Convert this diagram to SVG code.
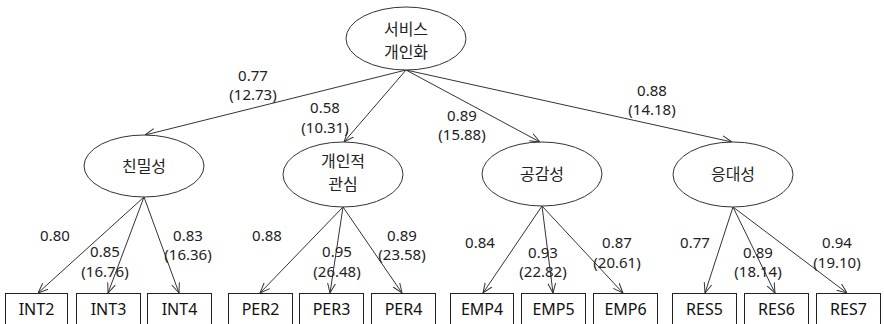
<svg xmlns="http://www.w3.org/2000/svg" width="884" height="324" viewBox="0 0 884 324">
<style>
.bg{fill:#fff}
ellipse{fill:#fff;stroke:#333;stroke-width:1}
rect{fill:#fff;stroke:#222;stroke-width:1}
.k{font-family:"Noto Sans CJK KR","Noto Sans",sans-serif;font-size:16px;fill:#222;text-anchor:middle}
.n{font-family:"Noto Sans","Liberation Sans",sans-serif;font-size:15px;fill:#222;text-anchor:middle}
.b{font-family:"Noto Sans","Liberation Sans",sans-serif;font-size:16px;fill:#111;text-anchor:middle}
#edges line{stroke:#333;stroke-width:1;marker-end:url(#ah)}
</style>
<defs>
<marker id="ah" viewBox="0 0 10 10" refX="10" refY="5" markerWidth="10" markerHeight="10" markerUnits="userSpaceOnUse" orient="auto">
<path d="M0,1 L10,5 L0,9" fill="none" stroke="#333" stroke-width="1"/>
</marker>
</defs>
<rect class="bg" x="0" y="0" width="884" height="324" style="stroke:none"/>
<g id="edges">
<line x1="406" y1="70" x2="145" y2="135"/>
<line x1="406" y1="70" x2="344" y2="142"/>
<line x1="406" y1="70" x2="540" y2="142"/>
<line x1="406" y1="70" x2="732" y2="142"/>
<line x1="144" y1="197" x2="38" y2="293"/>
<line x1="144" y1="197" x2="108" y2="293"/>
<line x1="144" y1="197" x2="179" y2="293"/>
<line x1="343" y1="207" x2="260" y2="293"/>
<line x1="343" y1="207" x2="330" y2="293"/>
<line x1="343" y1="207" x2="402" y2="293"/>
<line x1="542" y1="206" x2="483" y2="293"/>
<line x1="542" y1="206" x2="553" y2="293"/>
<line x1="542" y1="206" x2="623" y2="293"/>
<line x1="733" y1="207" x2="705" y2="293"/>
<line x1="733" y1="207" x2="775" y2="293"/>
<line x1="733" y1="207" x2="847" y2="293"/>
</g>
<g id="labels">
<text class="n" x="253" y="81">0.77</text><text class="n" x="253" y="100">(12.73)</text>
<text class="n" x="325" y="113">0.58</text><text class="n" x="325" y="133">(10.31)</text>
<text class="n" x="462" y="121">0.89</text><text class="n" x="462" y="140">(15.88)</text>
<text class="n" x="652" y="96">0.88</text><text class="n" x="652" y="115">(14.18)</text>
<text class="n" x="55" y="241">0.80</text>
<text class="n" x="105" y="257">0.85</text><text class="n" x="105" y="277">(16.76)</text>
<text class="n" x="188" y="241">0.83</text><text class="n" x="188" y="260">(16.36)</text>
<text class="n" x="267" y="241">0.88</text>
<text class="n" x="337" y="257">0.95</text><text class="n" x="337" y="277">(26.48)</text>
<text class="n" x="402" y="241">0.89</text><text class="n" x="402" y="260">(23.58)</text>
<text class="n" x="480" y="248">0.84</text>
<text class="n" x="543" y="258">0.93</text><text class="n" x="543" y="277">(22.82)</text>
<text class="n" x="617" y="248">0.87</text><text class="n" x="617" y="268">(20.61)</text>
<text class="n" x="695" y="248">0.77</text>
<text class="n" x="758" y="258">0.89</text><text class="n" x="758" y="277">(18.14)</text>
<text class="n" x="837" y="248">0.94</text><text class="n" x="837" y="268">(19.10)</text>
</g>
<g id="service"><ellipse cx="406" cy="38.5" rx="60" ry="31.5"/><text class="k" x="406" y="35">서비스</text><text class="k" x="406" y="58">개인화</text></g>
<g id="intimacy"><ellipse cx="144" cy="166" rx="60" ry="31"/><text class="k" x="144" y="172">친밀성</text></g>
<g id="personal"><ellipse cx="343" cy="174.5" rx="60" ry="32.5"/><text class="k" x="343" y="167">개인적</text><text class="k" x="343" y="190">관심</text></g>
<g id="empathy"><ellipse cx="542" cy="174" rx="60" ry="32"/><text class="k" x="542" y="180">공감성</text></g>
<g id="response"><ellipse cx="733" cy="174.5" rx="60" ry="32.5"/><text class="k" x="733" y="180">응대성</text></g>
<g id="INT2"><rect x="5.5" y="293.5" width="62" height="40"/><text class="b" x="36.5" y="315">INT2</text></g>
<g id="INT3"><rect x="76.5" y="293.5" width="64" height="40"/><text class="b" x="108.5" y="315">INT3</text></g>
<g id="INT4"><rect x="147.5" y="293.5" width="64" height="40"/><text class="b" x="179.5" y="315">INT4</text></g>
<g id="PER2"><rect x="228.5" y="293.5" width="64" height="40"/><text class="b" x="260.5" y="315">PER2</text></g>
<g id="PER3"><rect x="299.5" y="293.5" width="64" height="40"/><text class="b" x="331.5" y="315">PER3</text></g>
<g id="PER4"><rect x="371.5" y="293.5" width="64" height="40"/><text class="b" x="403.5" y="315">PER4</text></g>
<g id="EMP4"><rect x="450.5" y="293.5" width="63" height="40"/><text class="b" x="482" y="315">EMP4</text></g>
<g id="EMP5"><rect x="521.5" y="293.5" width="64" height="40"/><text class="b" x="553.5" y="315">EMP5</text></g>
<g id="EMP6"><rect x="593.5" y="293.5" width="64" height="40"/><text class="b" x="625.5" y="315">EMP6</text></g>
<g id="RES5"><rect x="672.5" y="293.5" width="64" height="40"/><text class="b" x="704.5" y="315">RES5</text></g>
<g id="RES6"><rect x="744.5" y="293.5" width="64" height="40"/><text class="b" x="776.5" y="315">RES6</text></g>
<g id="RES7"><rect x="816.5" y="293.5" width="64" height="40"/><text class="b" x="848.5" y="315">RES7</text></g>
</svg>
